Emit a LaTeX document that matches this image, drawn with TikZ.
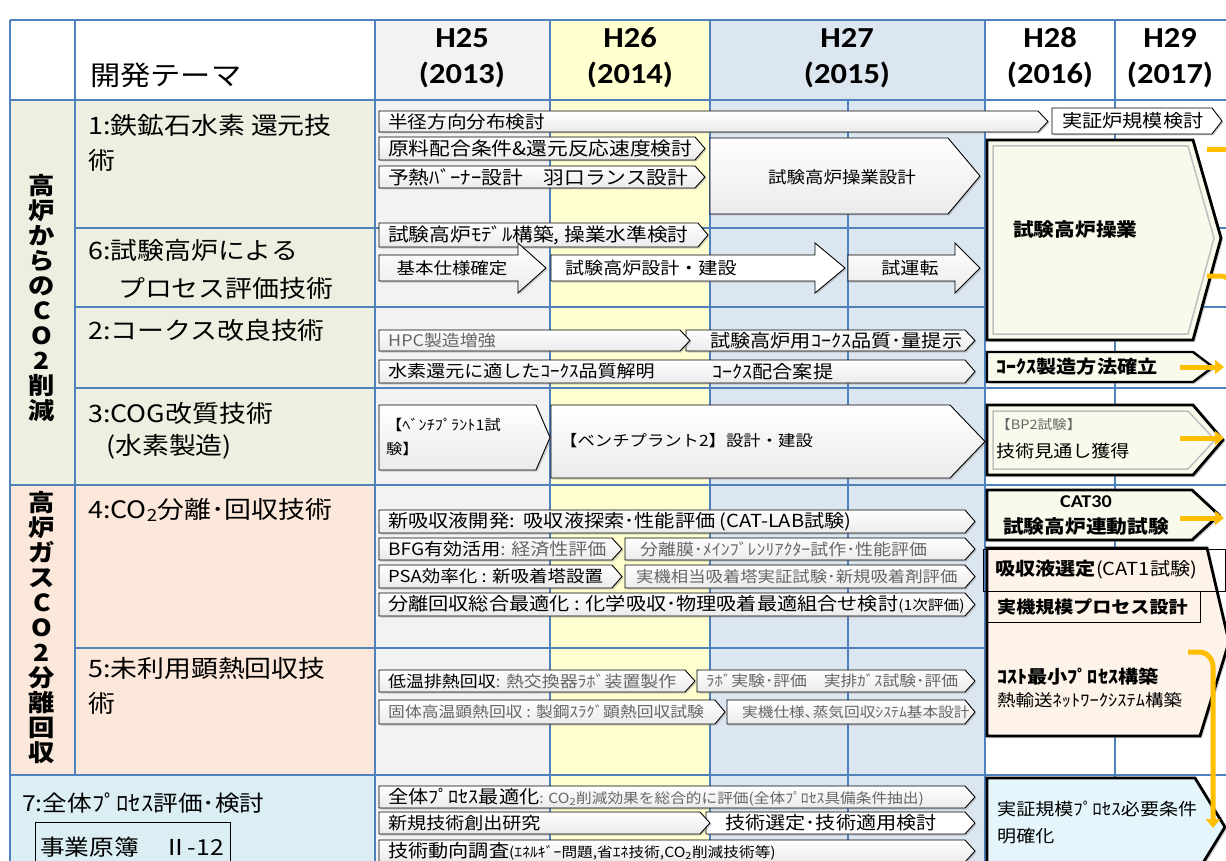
\documentclass[tikz,border=0pt]{standalone}
\usepackage{fontspec}
\setmainfont{Noto Sans CJK JP}[FakeStretch=1.12]
\newfontfamily\hfont{Carlito}[FakeStretch=1.12]
\usetikzlibrary{shadows,arrows.meta}
\definecolor{gridc}{RGB}{79,129,189}
\definecolor{gA}{RGB}{236,240,224}
\definecolor{gB}{RGB}{252,232,218}
\definecolor{gC}{RGB}{218,238,243}
\definecolor{c25}{RGB}{242,242,242}
\definecolor{c26}{RGB}{255,255,208}
\definecolor{c27}{RGB}{220,230,241}
\definecolor{orng}{RGB}{255,190,0}
\definecolor{bigY}{RGB}{250,250,236}
\definecolor{bigP}{RGB}{253,243,232}
\definecolor{bigB}{RGB}{228,246,251}
\tikzset{
  gridline/.style={draw=gridc, line width=1.2pt},
  chevs/.style={draw=black, line width=0.9pt, top color=white, bottom color=black!8,
    drop shadow={shadow xshift=1.5pt, shadow yshift=-1.5pt, opacity=0.35}},
  whitechev/.style={top color=white, bottom color=white},
  bigbox/.style={draw=black, line width=2.8pt, line join=miter,
    drop shadow={shadow xshift=2pt, shadow yshift=-2pt, opacity=0.35}},
  bevel/.style={draw=black!25, line width=1.5pt},
  tx/.style={inner sep=0pt, anchor=west, font=\fontsize{#1}{#1}\selectfont}, tx/.default=18,
  tc/.style={inner sep=0pt, anchor=center, font=\fontsize{#1}{#1}\selectfont}, tc/.default=18,
  gry/.style={text=black!60},
  hdr/.style={font=\hfont\bfseries\fontsize{29}{36}\selectfont, align=center, inner sep=0pt},
  theme/.style={inner sep=0pt, anchor=west, font=\fontsize{24}{24}\selectfont},
  vert/.style={inner sep=0pt, align=center, font=\bfseries\fontsize{23.5}{25}\selectfont},
  oarrow/.style={draw=orng, line width=5pt},
  ohead/.style={-{Triangle[width=14pt,length=9pt]}},
}
\newcommand\chevp[6][]{\path[chevs,#1] (#2,#3) -- ({#4-#6},#3) -- (#4,{(#3+#5)/2}) -- ({#4-#6},#5) -- (#2,#5) -- cycle;}
\newcommand\blkarrow[8][]{\path[chevs,#1] (#2,#3) -- (#5,#3) -- (#5,#6) -- (#8,{(#6+#7)/2}) -- (#5,#7) -- (#5,#4) -- (#2,#4) -- cycle;}
\newcommand\gr[1]{\textcolor{black!60}{#1}}
\begin{document}
\begin{tikzpicture}[x=1pt,y=-1pt]
\useasboundingbox (0,0) rectangle (1226,861);
\fill[white] (0,0) rectangle (1226,861);
% backgrounds
\fill[gA] (10,100) rectangle (375,485);
\fill[gB] (10,485) rectangle (375,775);
\fill[gC] (10,775) rectangle (375,861);
\fill[c25] (375,20) rectangle (550,861);
\fill[c26] (550,20) rectangle (710,861);
\fill[c27] (710,20) rectangle (985,861);
% grid
\draw[gridline] (10,20) -- (1226,20);
\draw[gridline] (10,100) -- (1226,100);
\draw[gridline] (75,228) -- (1226,228);
\draw[gridline] (75,307) -- (1226,307);
\draw[gridline] (75,388) -- (1226,388);
\draw[gridline] (10,485) -- (1226,485);
\draw[gridline] (75,648) -- (1226,648);
\draw[gridline] (10,775) -- (1226,775);
\draw[gridline] (10,20) -- (10,861);
\draw[gridline] (75,20) -- (75,775);
\draw[gridline] (375,20) -- (375,861);
\draw[gridline] (550,20) -- (550,861);
\draw[gridline] (710,20) -- (710,861);
\draw[gridline] (848,100) -- (848,861);
\draw[gridline] (985,20) -- (985,861);
\draw[gridline] (1115,20) -- (1115,861);
% header
\node[tx=27] (hd) at (90,75) {開発テーマ};
\node[hdr] (h25) at (462,58) {H25\\(2013)};
\node[hdr] (h26) at (630,58) {H26\\(2014)};
\node[hdr] (h27) at (847,58) {H27\\(2015)};
\node[hdr] (h28) at (1050,58) {H28\\(2016)};
\node[hdr] (h29) at (1170,58) {H29\\(2017)};
% group labels
\node[vert] (g1) at (42,298) {高\\炉\\か\\ら\\の\\C\\O\\2\\削\\減};
\node[vert] (g2) at (42,628) {高\\炉\\ガ\\ス\\C\\O\\2\\分\\離\\回\\収};
% themes
\node[theme] (t1a) at (88,125) {1:鉄鉱石水素 還元技};
\node[theme] (t1b) at (88,160) {術};
\node[theme] (t6a) at (88,250) {6:試験高炉による};
\node[theme] (t6b) at (118,288) {プロセス評価技術};
\node[theme] (t2) at (88,330) {2:コークス改良技術};
\node[theme] (t3a) at (88,413) {3:COG改質技術};
\node[theme] (t3b) at (106,447) {(水素製造)};
\node[theme] (t4) at (88,510) {4:CO\textsubscript{2}分離･回収技術};
\node[theme] (t5a) at (88,668) {5:未利用顕熱回収技};
\node[theme] (t5b) at (88,703) {術};
\node[theme, font=\fontsize{22}{22}\selectfont] (t7) at (22,803) {7:全体ﾌﾟﾛｾｽ評価･検討};
\draw[line width=1pt] (35,822) rectangle (230,880);
\node[tc=22] (gen) at (132,847) {事業原簿　Ⅱ-12};
% ---- row 1
\chevp{379}{111}{1048}{132}{10}
\chevp[whitechev]{1052}{108}{1222}{134}{10}
\chevp{379}{137}{705}{160}{10}
\chevp{379}{166}{705}{188}{10}
\chevp{710}{138}{980}{214}{32}
\node[tx=17.5] (a1) at (388,121.5) {半径方向分布検討};
\node[tx=18] (a2) at (1062,121) {実証炉規模検討};
\node[tx=18.5] (a3) at (388,148.5) {原料配合条件\&還元反応速度検討};
\node[tx=18.5] (a4) at (388,177) {予熱ﾊﾞｰﾅｰ設計　羽口ランス設計};
\node[tc=16.5] (a5) at (842,177) {試験高炉操業設計};
\path[bigbox, fill=bigY] (987,140) -- (1193,140) -- (1221,238) -- (1193,340) -- (987,340) -- cycle;
\path[bevel] (993,146) -- (1188,146) -- (1214,238) -- (1188,334) -- (993,334) -- cycle;
\node[tx=18.5, font=\bfseries\fontsize{18.5}{18.5}\selectfont] (a6) at (1013,229) {試験高炉操業};
% ---- row 6
\chevp{379}{223}{708}{247}{10}
\node[tx=18.5] (b1) at (388,235) {試験高炉ﾓﾃﾞﾙ構築, 操業水準検討};
\blkarrow{379}{255}{281}{518}{243}{293}{546}
\blkarrow[whitechev]{551}{255}{281}{815}{243}{293}{845}
\blkarrow{848}{255}{281}{955}{243}{293}{980}
\node[tc=16.5] (b2) at (452,268) {基本仕様確定};
\node[tx=17] (b3) at (565,268) {試験高炉設計・建設};
\node[tc=17] (b4) at (910,268) {試運転};
% ---- row 2
\chevp{686}{330}{975}{351}{10}
\chevp{379}{330}{690}{351}{10}
\chevp{379}{360}{975}{383}{10}
\node[tx=16, gry] (c1) at (388,340.5) {HPC製造増強};
\node[tx=18] (c2) at (710,340.5) {試験高炉用ｺｰｸｽ品質･量提示};
\node[tx=17] (c3) at (388,371.5) {水素還元に適したｺｰｸｽ品質解明};
\node[tx=18] (c4) at (712,371.5) {ｺｰｸｽ配合案提};
\path[bigbox, line width=2.4pt, fill=bigY] (987,352) -- (1193,352) -- (1213,367) -- (1193,382) -- (987,382) -- cycle;
\node[tx=18, font=\bfseries\fontsize{18}{18}\selectfont] (c5) at (996,367) {ｺｰｸｽ製造方法確立};
% ---- row 3
\chevp{551}{405}{985}{478}{35}
\chevp{379}{405}{550}{470}{14}
\node[tx, align=left, font=\fontsize{14.5}{24}\selectfont] (d1) at (386,437) {【ﾍﾞﾝﾁﾌﾟﾗﾝﾄ1試\\験】};
\node[tx=15.5] (d2) at (560,441) {【ベンチプラント2】設計・建設};
\path[bigbox, fill=bigY] (987,405) -- (1193,405) -- (1223,440) -- (1193,475) -- (987,475) -- cycle;
\path[bevel] (993,411) -- (1188,411) -- (1215,440) -- (1188,469) -- (993,469) -- cycle;
\node[tx=13, gry] (d3) at (996,425) {【BP2試験】};
\node[tx=17] (d4) at (996,451) {技術見通し獲得};
% ---- row 4
\chevp{379}{510}{975}{533}{10}
\chevp{625}{538}{975}{560}{10}
\chevp{379}{538}{622}{560}{10}
\chevp{625}{565}{975}{588}{10}
\chevp{379}{565}{622}{588}{10}
\chevp{379}{593}{975}{616}{10}
\node[tx=18] (e1) at (388,521.5) {新吸収液開発:\ \ 吸収液探索･性能評価 (CAT-LAB試験)};
\node[tx=17] (e2) at (388,549) {BFG有効活用\gr{ : 経済性評価}};
\node[tx=16, gry] (e3) at (640,549) {分離膜･ﾒｲﾝﾌﾞﾚﾝﾘｱｸﾀｰ試作･性能評価};
\node[tx=16.5] (e4) at (388,576.5) {PSA効率化 : 新吸着塔設置};
\node[tx=15.5, gry] (e5) at (636,576.5) {実機相当吸着塔実証試験･新規吸着剤評価};
\node[tx=18] (e6) at (388,604.5) {分離回収総合最適化 : 化学吸収･物理吸着最適組合せ検討{\fontsize{14}{14}\selectfont(1次評価)}};
\path[bigbox, fill=bigY] (987,490) -- (1192,490) -- (1219,515) -- (1192,540) -- (987,540) -- cycle;
\node[tc, font=\hfont\bfseries\fontsize{18}{18}\selectfont] (e7) at (1086,502) {CAT30};
\node[tx, font=\bfseries\fontsize{18.5}{18.5}\selectfont] (e8) at (1003,527) {試験高炉連動試験};
\path[bigbox, fill=bigP] (987,548) -- (1207,548) -- (1229,642) -- (1200,736) -- (987,736) -- cycle;
\draw[line width=0.8pt] (983,549) rectangle (1225,591);
\draw[line width=0.8pt] (987,591) rectangle (1200,622);
\node[tx=18] (e9) at (995,570) {\bfseries 吸収液選定\mdseries(CAT1試験)};
\node[tx, font=\bfseries\fontsize{17}{17}\selectfont] (e10) at (997,607) {実機規模プロセス設計};
\node[tx, font=\bfseries\fontsize{18}{18}\selectfont] (e11) at (997,677) {ｺｽﾄ最小ﾌﾟﾛｾｽ構築};
\node[tx=16.5] (e12) at (997,700) {熱輸送ﾈｯﾄﾜｰｸｼｽﾃﾑ構築};
% ---- row 5
\chevp{697}{670}{975}{692}{10}
\chevp{379}{670}{695}{692}{10}
\chevp{727}{700}{975}{724}{10}
\chevp{379}{700}{725}{724}{10}
\node[tx=16] (f1) at (388,681) {低温排熱回収\gr{ : 熱交換器ﾗﾎﾞ装置製作}};
\node[tx=15, gry] (f2) at (706,681) {ﾗﾎﾞ実験･評価　実排ｶﾞｽ試験･評価};
\node[tx=15, gry] (f3) at (388,712) {固体高温顕熱回収 : 製鋼ｽﾗｸﾞ顕熱回収試験};
\node[tx=14, gry] (f4) at (742,712) {実機仕様､蒸気回収ｼｽﾃﾑ基本設計};
% ---- row 7
\chevp{379}{786}{975}{808}{10}
\chevp[whitechev]{706}{812}{975}{834}{10}
\chevp{379}{812}{710}{834}{10}
\chevp{379}{840}{975}{862}{10}
\node[tx=18] (h1) at (388,797) {全体ﾌﾟﾛｾｽ最適化{\fontsize{14}{14}\selectfont\gr{ : CO\textsubscript{2}削減効果を総合的に評価(全体ﾌﾟﾛｾｽ具備条件抽出)}}};
\node[tx=17] (h2) at (388,823) {新規技術創出研究};
\node[tx=18] (h3) at (725,823) {技術選定･技術適用検討};
\node[tx=18] (h4) at (388,851) {技術動向調査{\fontsize{14}{14}\selectfont(ｴﾈﾙｷﾞｰ問題,省ｴﾈ技術,CO\textsubscript{2}削減技術等)}};
\path[bigbox, fill=bigB] (987,778) -- (1195,778) -- (1225,827) -- (1195,876) -- (987,876) -- cycle;
\node[tx=17] (h5) at (997,809) {実証規模ﾌﾟﾛｾｽ必要条件};
\node[tx=17] (h6) at (997,836) {明確化};
% ---- orange arrows
\coordinate (o1s) at (1207,150); \coordinate (o1e) at (1240,150);
\draw[oarrow] (o1s) -- (o1e);
\coordinate (o2s) at (1207,276);
\draw[oarrow] (o2s) -- (1220,276) to[out=0,in=90] (1234,290) -- (1234,420);
\coordinate (o3s) at (1180,367); \coordinate (o3e) at (1224,367);
\draw[oarrow, ohead] (o3s) -- (o3e);
\coordinate (o4s) at (1180,438); \coordinate (o4e) at (1224,438);
\draw[oarrow, ohead] (o4s) -- (o4e);
\coordinate (o5s) at (1180,518); \coordinate (o5e) at (1224,518);
\draw[oarrow, ohead] (o5s) -- (o5e);
\coordinate (o6s) at (1188,652); \coordinate (o6e) at (1213,828);
\draw[oarrow, ohead] (o6s) -- (1199,652) to[out=0,in=90] (1213,667) -- (o6e);
\end{tikzpicture}
\end{document}
